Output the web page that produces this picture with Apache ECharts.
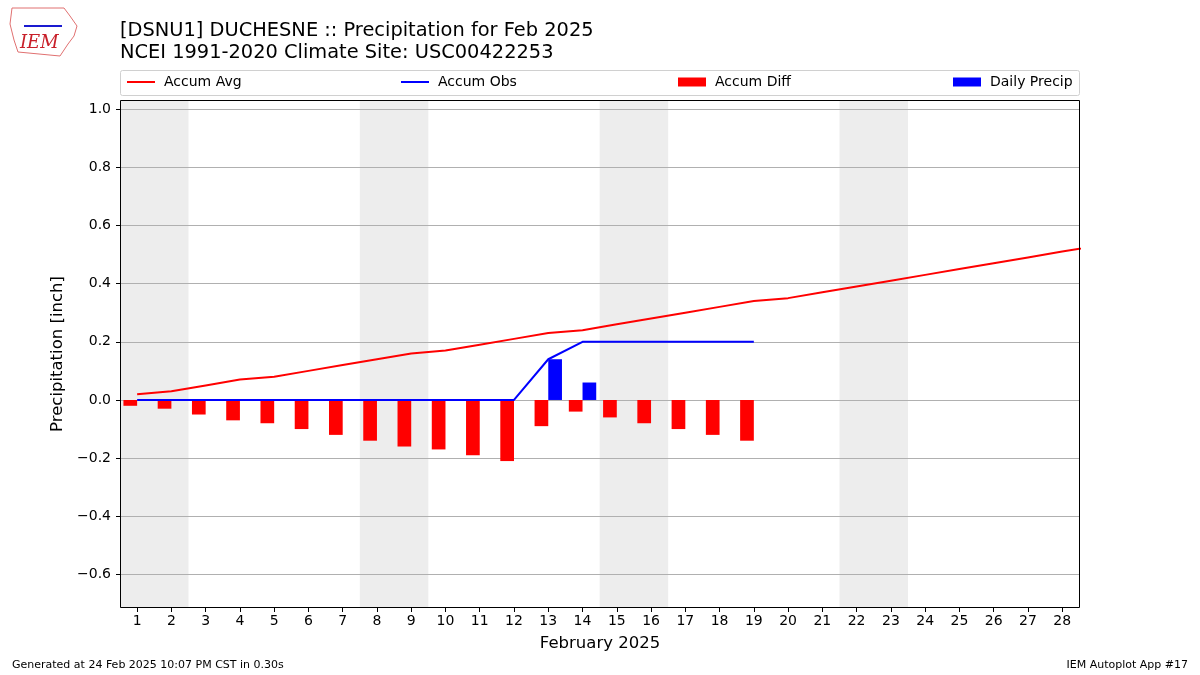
<!DOCTYPE html>
<html>
<head>
<meta charset="utf-8">
<script src="https://cdn.jsdelivr.net/npm/echarts@6/dist/echarts.min.js"></script>
<style>html,body{margin:0;padding:0;background:#fff}#c{width:1200px;height:675px}</style>
</head>
<body>
<div id="c"></div>
<script>
// day-of-month data, Feb 2025 (avg line runs on into Mar 1 and is clipped)
const avgDays = [1,2,3,4,5,6,7,8,9,10,11,12,13,14,15,16,17,18,19,20,21,22,23,24,25,26,27,28,29];
const accumAvg = [0.02,0.03,0.05,0.07,0.08,0.10,0.12,0.14,0.16,0.17,0.19,0.21,0.23,0.24,0.26,0.28,0.30,0.32,0.34,0.35,0.37,0.39,0.41,0.43,0.45,0.47,0.49,0.51,0.53];
const days = [1,2,3,4,5,6,7,8,9,10,11,12,13,14,15,16,17,18,19,20,21,22,23,24,25,26,27,28];
const obsDays = [1,2,3,4,5,6,7,8,9,10,11,12,13,14,15,16,17,18,19];
const accumObs = [0,0,0,0,0,0,0,0,0,0,0,0,0.14,0.20,0.20,0.20,0.20,0.20,0.20];
const accumDiff = [-0.02,-0.03,-0.05,-0.07,-0.08,-0.10,-0.12,-0.14,-0.16,-0.17,-0.19,-0.21,-0.09,-0.04,-0.06,-0.08,-0.10,-0.12,-0.14];
const dailyPrecip = [0,0,0,0,0,0,0,0,0,0,0,0,0.14,0.06,0,0,0,0,0];
const weekends = [[0.5,2.5],[7.5,9.5],[14.5,16.5],[21.5,23.5]];
const yTicks = [-0.6,-0.4,-0.2,0,0.2,0.4,0.6,0.8,1.0];

const FONT = "DejaVu Sans";
const chart = echarts.init(document.getElementById('c'));

// bar drawn from x+offset to x+offset+0.4 (days), from 0 to value
function barItem(offset, color) {
  return (params, api) => {
    const x = api.value(0), v = api.value(1);
    if (!v) return null;
    const p0 = api.coord([x + offset, 0]);
    const p1 = api.coord([x + offset + 0.4, v]);
    return { type:'rect', shape:{ x:p0[0], y:Math.min(p0[1],p1[1]), width:p1[0]-p0[0], height:Math.abs(p1[1]-p0[1]) },
      style:{ fill:color } };
  };
}

const legendBase = { top:70, itemHeight:9, itemWidth:28, textStyle:{ fontFamily:FONT, fontSize:14, color:'#000', padding:[0,0,0,4] }, itemGap:10, selectedMode:false };

chart.setOption({
  animation:false,
  textStyle:{ fontFamily:FONT },
  title:[
    { text:'[DSNU1] DUCHESNE :: Precipitation for Feb 2025\nNCEI 1991-2020 Climate Site: USC00422253', left:115, top:15,
      textStyle:{ fontFamily:FONT, fontSize:19.4, fontWeight:'normal', color:'#000', lineHeight:22 } },
  ],
  graphic:[
    { type:'rect', shape:{ x:120.5, y:70.5, width:959, height:25, r:2 }, style:{ fill:'#fff', stroke:'#d0d0d0', lineWidth:1 }, z:-1 },
    { type:'rect', shape:{ x:120.5, y:100.5, width:959, height:507 }, style:{ fill:null, stroke:'#000', lineWidth:1 }, z:100 },
    { type:'text', left:20, top:34, style:{ text:'IEM', fontFamily:'DejaVu Serif', fontStyle:'italic', fontSize:18, fill:'#c8202a' } },
    { type:'polyline', shape:{ points:[[12,8],[64,8],[70,16],[77,26],[74,36],[68,44],[64,50],[60,56],[18,52],[14,40],[10,24],[12,8]] },
      style:{ stroke:'#e07070', fill:null, lineWidth:1 } },
    { type:'polyline', shape:{ points:[[24,26],[62,26]] }, style:{ stroke:'#1a1ad0', lineWidth:2 } },
    { type:'text', left:12, top:660, style:{ text:'Generated at 24 Feb 2025 10:07 PM CST in 0.30s', fontFamily:FONT, fontSize:11, fill:'#000' } },
    { type:'text', right:12, top:660, style:{ text:'IEM Autoplot App #17', fontFamily:FONT, fontSize:11, fill:'#000' } }
  ],
  legend:[
    Object.assign({}, legendBase, { left:122, data:[{ name:'Accum Avg', icon:'rect', itemStyle:{ color:'red' } }], itemHeight:2 }),
    Object.assign({}, legendBase, { left:396, data:[{ name:'Accum Obs', icon:'rect', itemStyle:{ color:'blue' } }], itemHeight:2 }),
    Object.assign({}, legendBase, { left:673, data:[{ name:'Accum Diff', icon:'rect', itemStyle:{ color:'red' } }] }),
    Object.assign({}, legendBase, { left:948, data:[{ name:'Daily Precip', icon:'rect', itemStyle:{ color:'blue' } }] })
  ],
  grid:{ left:120, right:120, top:100, bottom:67, show:false },
  xAxis:{ type:'value', min:0.5, max:28.52, name:'February 2025', nameLocation:'middle', nameGap:27,
    nameTextStyle:{ fontFamily:FONT, fontSize:16.5, color:'#000' },
    axisLine:{ show:false, onZero:false },
    axisTick:{ show:true, customValues:days, length:4, lineStyle:{ color:'#000' } },
    axisLabel:{ customValues:days, fontFamily:FONT, fontSize:14, color:'#000', margin:6 },
    splitLine:{ show:false } },
  yAxis:{ type:'value', min:-0.715, max:1.031, name:'Precipitation [inch]', nameLocation:'middle', nameGap:50,
    nameTextStyle:{ fontFamily:FONT, fontSize:16.5, color:'#000' },
    axisLine:{ show:false, onZero:false },
    axisTick:{ show:true, customValues:yTicks, length:4, lineStyle:{ color:'#000' } },
    axisLabel:{ customValues:yTicks, fontFamily:FONT, fontSize:14, color:'#000', margin:9,
      formatter:v => v.toFixed(1).replace('-', '\u2212') },
    splitLine:{ show:false } },
  series:[
    { name:'Accum Avg', type:'line', data:avgDays.map((d,i)=>[d,accumAvg[i]]), showSymbol:false, clip:true, lineStyle:{ color:'red', width:2 }, itemStyle:{ color:'red' }, z:3,
      markArea:{ silent:true, itemStyle:{ color:'#ededed' }, data:weekends.map(w=>[{ xAxis:w[0] },{ xAxis:w[1] }]) },
      markLine:{ silent:true, symbol:'none', label:{ show:false }, lineStyle:{ color:'#b0b0b0', width:1, type:'solid' },
        data:yTicks.map(v=>({ yAxis:v })), z:1 } },
    { name:'Accum Obs', type:'line', data:obsDays.map((d,i)=>[d,accumObs[i]]), showSymbol:false, lineStyle:{ color:'blue', width:2 }, itemStyle:{ color:'blue' }, z:4 },
    { name:'Accum Diff', type:'custom', data:obsDays.map((d,i)=>[d,accumDiff[i]]), renderItem:barItem(-0.4,'red'), itemStyle:{ color:'red' }, z:2 },
    { name:'Daily Precip', type:'custom', data:obsDays.map((d,i)=>[d,dailyPrecip[i]]), renderItem:barItem(0,'blue'), itemStyle:{ color:'blue' }, z:2 }
  ]
});
window.addEventListener('resize', ()=>chart.resize());
</script>
</body>
</html>
